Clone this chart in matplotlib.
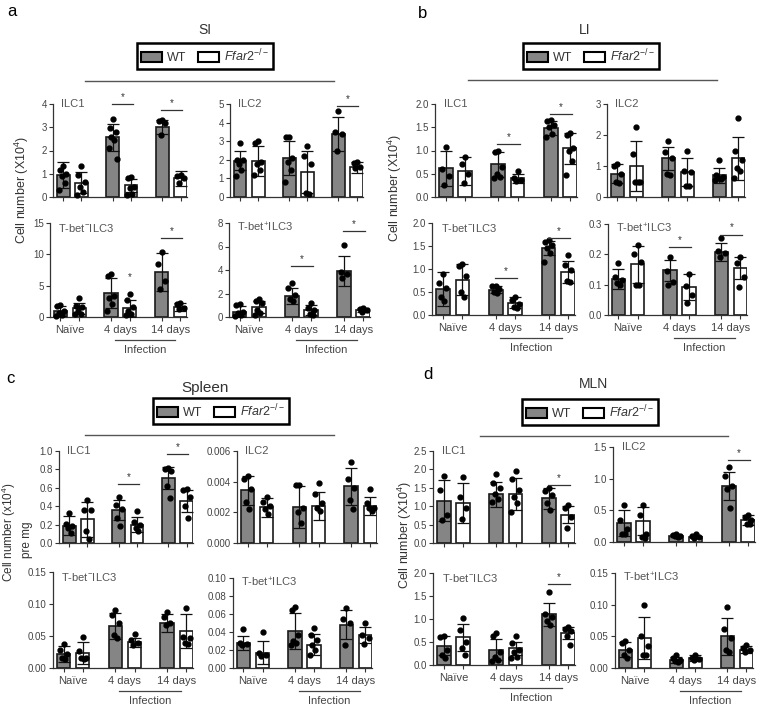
import matplotlib
matplotlib.use('Agg')
import matplotlib.pyplot as plt
import matplotlib.transforms as mtransforms
from matplotlib.patches import Patch
from matplotlib.lines import Line2D
import numpy as np

plt.rcParams['font.family'] = ['Liberation Sans', 'DejaVu Sans']
plt.rcParams['mathtext.fontset'] = 'custom'
plt.rcParams['mathtext.rm'] = 'Liberation Sans'
plt.rcParams['mathtext.it'] = 'Liberation Sans:italic'

W, H = 764, 713

# bar order: Naive WT, Naive KO, 4d WT, 4d KO, 14d WT, 14d KO
x_pos = [0, 1, 2.7, 3.7, 5.4, 6.4]
group_labels = ['Naïve', '4 days', '14 days']
group_centers = [0.5, 3.2, 5.9]

# ---- SI ----
si_ilc1_mean = [0.95, 0.62, 2.56, 0.5, 3.0, 0.81]
si_ilc1_sd = [0.55, 0.45, 0.57, 0.27, 0.31, 0.32]
si_ilc1_pts = [[1.35, 1.15, 1.0, 0.9, 0.6, 0.3], [1.35, 0.95, 0.65, 0.45, 0.2, 0.1],
               [3.35, 2.95, 2.8, 2.6, 2.45, 2.1, 1.65], [0.85, 0.8, 0.45, 0.4, 0.15, 0.1],
               [3.3, 3.25, 3.2, 2.65], [0.95, 0.9, 0.8, 0.6]]
si_ilc1_sig = [(1, 4.0), (2, 3.75)]

si_ilc2_mean = [1.95, 1.95, 2.1, 1.35, 3.4, 1.6]
si_ilc2_sd = [0.5, 0.8, 0.9, 1.15, 0.9, 0.3]
si_ilc2_pts = [[2.9, 2.0, 2.0, 1.8, 1.45, 1.15], [3.0, 2.9, 1.9, 1.75, 1.45, 1.2],
               [3.25, 3.25, 2.1, 1.9, 1.45, 0.8], [2.75, 2.2, 1.8, 0.2, 0.15],
               [4.65, 3.5, 3.4, 2.45], [1.9, 1.85, 1.6, 1.55]]
si_ilc2_sig = [(2, 4.9)]

si_tm_mean = [1.0, 1.4, 3.85, 1.4, 7.2, 1.6]
si_tm_sd = [0.8, 0.9, 2.45, 1.35, 3.0, 0.7]
si_tm_pts = [[1.9, 1.8, 1.0, 0.6, 0.3, 0.2], [3.1, 1.8, 1.6, 1.0, 0.5, 0.4],
             [6.9, 6.5, 3.4, 3.1, 2.0, 1.0], [3.7, 2.7, 1.6, 1.0, 0.4, 0.3],
             [10.4, 8.5, 5.8, 4.5], [2.2, 2.0, 1.5, 1.25]]
si_tm_sig = [(2, 12.6)]
si_tm_star = [(3, 5.6)]

si_tp_mean = [0.45, 0.85, 1.8, 0.6, 3.9, 0.6]
si_tp_sd = [0.45, 0.5, 0.7, 0.4, 1.3, 0.15]
si_tp_pts = [[1.1, 1.0, 0.45, 0.3, 0.15, 0.1], [1.5, 1.35, 1.15, 0.6, 0.3, 0.15],
             [2.9, 2.45, 1.85, 1.5, 1.35], [1.15, 0.75, 0.6, 0.25, 0.15],
             [6.1, 3.8, 3.65, 3.35], [0.8, 0.65, 0.6, 0.45]]
si_tp_sig = [(1, 4.3), (2, 7.3)]

# ---- LI ----
li_ilc1_mean = [0.62, 0.55, 0.7, 0.4, 1.48, 1.05]
li_ilc1_sd = [0.38, 0.3, 0.27, 0.1, 0.15, 0.33]
li_ilc1_pts = [[1.07, 0.6, 0.45, 0.25], [0.85, 0.7, 0.5, 0.3],
               [0.98, 0.97, 0.65, 0.5, 0.42, 0.4], [0.55, 0.4, 0.37, 0.35],
               [1.65, 1.63, 1.55, 1.5, 1.35, 1.3], [1.37, 1.33, 1.05, 1.0, 0.78, 0.47]]
li_ilc1_sig = [(1, 1.13), (2, 1.78)]

li_ilc2_mean = [0.75, 1.0, 1.25, 0.8, 0.7, 1.25]
li_ilc2_sd = [0.3, 0.8, 0.37, 0.45, 0.25, 0.7]
li_ilc2_pts = [[1.05, 1.0, 0.75, 0.5, 0.45], [2.25, 1.4, 0.5, 0.5, 0.5],
               [1.8, 1.45, 1.25, 0.75, 0.7], [1.5, 0.85, 0.8, 0.35, 0.35],
               [1.2, 0.72, 0.65, 0.6, 0.58, 0.55], [2.55, 1.5, 1.2, 0.95, 0.85, 0.6]]
li_ilc2_sig = []

li_tm_mean = [0.57, 0.77, 0.55, 0.27, 1.45, 0.93]
li_tm_sd = [0.37, 0.33, 0.07, 0.12, 0.15, 0.24]
li_tm_pts = [[0.9, 0.7, 0.58, 0.4, 0.3], [1.1, 1.07, 0.85, 0.5, 0.4],
             [0.63, 0.62, 0.56, 0.5, 0.47], [0.4, 0.33, 0.25, 0.18, 0.15],
             [1.62, 1.58, 1.53, 1.45, 1.35, 1.15], [1.3, 1.08, 0.97, 0.75, 0.72]]
li_tm_sig = [(1, 0.8), (2, 1.68)]

li_tp_mean = [0.12, 0.167, 0.147, 0.093, 0.207, 0.155]
li_tp_sd = [0.033, 0.06, 0.035, 0.043, 0.03, 0.036]
li_tp_pts = [[0.172, 0.126, 0.115, 0.104, 0.1], [0.23, 0.2, 0.175, 0.1, 0.1],
             [0.19, 0.145, 0.11, 0.1], [0.135, 0.095, 0.067, 0.04],
             [0.255, 0.21, 0.204, 0.19], [0.19, 0.173, 0.126, 0.092]]
li_tp_sig = [(1, 0.225), (2, 0.265)]

# ---- Spleen ----
sp_ilc1_mean = [0.19, 0.26, 0.36, 0.2, 0.71, 0.46]
sp_ilc1_sd = [0.1, 0.19, 0.11, 0.08, 0.12, 0.12]
sp_ilc1_pts = [[0.33, 0.21, 0.19, 0.16, 0.11], [0.47, 0.36, 0.36, 0.13, 0.04],
               [0.5, 0.41, 0.37, 0.27, 0.18], [0.35, 0.23, 0.2, 0.16, 0.13],
               [0.82, 0.8, 0.78, 0.62, 0.49], [0.59, 0.58, 0.5, 0.4, 0.27]]
sp_ilc1_sig = [(1, 0.64), (2, 0.97)]

sp_ilc2_mean = [0.00345, 0.00232, 0.00235, 0.0024, 0.0037, 0.0024]
sp_ilc2_sd = [0.00095, 0.0006, 0.00135, 0.0009, 0.0012, 0.0006]
sp_ilc2_pts = [[0.0044, 0.00415, 0.0035, 0.0027, 0.0022], [0.003, 0.0027, 0.0024, 0.0022, 0.0019],
               [0.0038, 0.0038, 0.0023, 0.002, 0.0013], [0.0039, 0.0032, 0.0026, 0.0023, 0.0021],
               [0.0053, 0.0042, 0.0036, 0.0028, 0.0022], [0.0035, 0.0026, 0.0023, 0.0023, 0.0021]]
sp_ilc2_sig = []

sp_tm_mean = [0.022, 0.024, 0.066, 0.04, 0.07, 0.058]
sp_tm_sd = [0.012, 0.017, 0.02, 0.007, 0.014, 0.026]
sp_tm_pts = [[0.037, 0.028, 0.022, 0.016, 0.014], [0.049, 0.026, 0.016, 0.015, 0.014],
             [0.09, 0.083, 0.07, 0.052, 0.047], [0.053, 0.044, 0.039, 0.036],
             [0.088, 0.08, 0.07, 0.067], [0.094, 0.049, 0.047, 0.039, 0.038]]
sp_tm_sig = []

sp_tp_mean = [0.028, 0.017, 0.041, 0.026, 0.048, 0.037]
sp_tp_sd = [0.008, 0.013, 0.02, 0.012, 0.016, 0.009]
sp_tp_pts = [[0.043, 0.028, 0.027, 0.026], [0.04, 0.017, 0.015, 0.013],
             [0.068, 0.065, 0.037, 0.03, 0.028, 0.026], [0.044, 0.037, 0.031, 0.026, 0.02, 0.015],
             [0.067, 0.055, 0.05, 0.026], [0.05, 0.037, 0.033, 0.027]]
sp_tp_sig = []

# ---- MLN ----
mln_ilc1_mean = [1.15, 1.08, 1.33, 1.33, 1.21, 0.77]
mln_ilc1_sd = [0.55, 0.54, 0.34, 0.43, 0.28, 0.23]
mln_ilc1_pts = [[1.82, 1.44, 0.77, 0.63], [1.8, 1.25, 0.95, 0.65],
                [1.87, 1.64, 1.49, 1.33, 1.19, 1.12], [1.96, 1.73, 1.44, 1.26, 1.1, 0.83],
                [1.49, 1.42, 1.3, 1.08, 0.9], [1.04, 0.95, 0.72, 0.4]]
mln_ilc1_sig = [(2, 1.58)]

mln_ilc2_mean = [0.3, 0.33, 0.1, 0.08, 0.88, 0.35]
mln_ilc2_sd = [0.2, 0.22, 0.02, 0.02, 0.22, 0.08]
mln_ilc2_pts = [[0.58, 0.34, 0.21, 0.13, 0.12], [0.58, 0.42, 0.13, 0.08, 0.07],
                [0.12, 0.11, 0.1, 0.09, 0.08], [0.12, 0.1, 0.08, 0.07],
                [1.18, 1.05, 0.88, 0.84, 0.53], [0.43, 0.39, 0.34, 0.29, 0.28]]
mln_ilc2_sig = [(2, 1.3)]

mln_tm_mean = [0.42, 0.6, 0.33, 0.36, 1.1, 0.7]
mln_tm_sd = [0.2, 0.3, 0.23, 0.14, 0.25, 0.13]
mln_tm_pts = [[0.62, 0.6, 0.33, 0.22, 0.15], [1.02, 0.76, 0.5, 0.38, 0.22],
              [0.69, 0.64, 0.29, 0.18, 0.1, 0.08], [0.62, 0.47, 0.33, 0.29, 0.18, 0.15],
              [1.58, 1.1, 1.05, 0.95, 0.87], [0.83, 0.78, 0.73, 0.62, 0.44]]
mln_tm_sig = [(2, 1.76)]

mln_tp_mean = [0.029, 0.047, 0.013, 0.016, 0.05, 0.029]
mln_tp_sd = [0.012, 0.033, 0.005, 0.005, 0.029, 0.005]
mln_tp_pts = [[0.042, 0.04, 0.029, 0.021, 0.016], [0.1, 0.05, 0.034, 0.021, 0.02],
              [0.021, 0.016, 0.013, 0.011, 0.01], [0.021, 0.016, 0.014, 0.012],
              [0.096, 0.061, 0.047, 0.029, 0.026], [0.037, 0.032, 0.029, 0.026]]
mln_tp_sig = []

WT_GRAY = '#858585'
TXT = '#444444'
jitter = [0.0, -0.17, 0.17, -0.08, 0.08, -0.22, 0.22]

fig = plt.figure(figsize=(W / 100, H / 100), dpi=100)


def place(l, t, r, b):
    return fig.add_axes([l / W, 1 - b / H, (r - l) / W, (b - t) / H])


def draw(rect, name, mean, sd, pts, yticks, fmt, sig=(), star=(), bottom=False):
    ax = place(*rect)
    h_px = rect[3] - rect[1]
    ax.bar(x_pos, mean, width=0.7, color=[WT_GRAY, 'white'] * 3,
           edgecolor='#1a1a1a', linewidth=1.2, zorder=2)
    ax.errorbar(x_pos, mean, yerr=sd, fmt='none', ecolor='#111111',
                elinewidth=0.9, capsize=4, capthick=0.9, zorder=3)
    for xc, vals in zip(x_pos, pts):
        xs = xc + np.array(jitter[:len(vals)])
        ax.plot(xs, vals, 'o', color='black', ms=3.5, zorder=4, clip_on=False)
    ax.set_xlim(-0.55, 6.75)
    ax.set_ylim(0, yticks[-1])
    ax.set_yticks(yticks)
    ax.set_yticklabels([fmt.format(v) for v in yticks])
    ax.set_xticks(x_pos)
    ax.set_xticklabels([])
    for s in ['top', 'right']:
        ax.spines[s].set_visible(False)
    for s in ['left', 'bottom']:
        ax.spines[s].set_color('#333333')
        ax.spines[s].set_linewidth(0.9)
    ax.tick_params(axis='both', which='major', length=3, width=0.8,
                   color='#333333', labelsize=7, labelcolor=TXT, pad=1.5)
    ty = 0.95 if 'ILC3' in name else 1.0
    ax.text(0.06, ty, name, transform=ax.transAxes, fontsize=8, color='#555555', va='center')

    for g, yv in sig:
        x0, x1 = x_pos[2 * g] - 0.05, x_pos[2 * g + 1] + 0.1
        ax.plot([x0, x1], [yv, yv], color='#333333', lw=0.9, clip_on=False, zorder=5)
        ax.annotate('*', ((x0 + x1) / 2, yv), xytext=(0, 1.5), textcoords='offset points',
                    ha='center', va='bottom', fontsize=7, color='#333333', annotation_clip=False)
    for i, yv in star:
        ax.text(x_pos[i], yv, '*', ha='center', va='bottom', fontsize=7, color='#333333')

    if bottom:
        ax.set_xticks(group_centers, minor=True)
        ax.set_xticklabels(group_labels, minor=True)
        ax.tick_params(axis='x', which='minor', length=0, labelsize=8, labelcolor=TXT, pad=6)
        trans = mtransforms.blended_transform_factory(ax.transData, ax.transAxes)
        ly = -23 / h_px
        ax.plot([2.9, 6.1], [ly, ly], color='#444444', lw=0.9, transform=trans, clip_on=False)
        ax.text(4.5, -33 / h_px, 'Infection', transform=trans, ha='center', va='center',
                fontsize=8, color=TXT)
    return ax


# SI
draw((53, 104, 187, 197), 'ILC1', si_ilc1_mean, si_ilc1_sd, si_ilc1_pts, [0, 1, 2, 3, 4], '{:g}', si_ilc1_sig)
draw((230, 104, 363, 197), 'ILC2', si_ilc2_mean, si_ilc2_sd, si_ilc2_pts, [0, 1, 2, 3, 4, 5], '{:g}', si_ilc2_sig)
draw((50, 223, 187, 317), r'T-bet$^{-}$ILC3', si_tm_mean, si_tm_sd, si_tm_pts, [0, 5, 10, 15], '{:g}',
     si_tm_sig, si_tm_star, bottom=True)
draw((229, 223, 370, 317), r'T-bet$^{+}$ILC3', si_tp_mean, si_tp_sd, si_tp_pts, [0, 2, 4, 6, 8], '{:g}',
     si_tp_sig, bottom=True)

# LI
draw((435, 104, 577, 197), 'ILC1', li_ilc1_mean, li_ilc1_sd, li_ilc1_pts, [0, 0.5, 1.0, 1.5, 2.0], '{:.1f}', li_ilc1_sig)
draw((607, 104, 745, 197), 'ILC2', li_ilc2_mean, li_ilc2_sd, li_ilc2_pts, [0, 1, 2, 3], '{:g}', li_ilc2_sig)
draw((432, 223, 575, 315), r'T-bet$^{-}$ILC3', li_tm_mean, li_tm_sd, li_tm_pts, [0, 0.5, 1.0, 1.5, 2.0], '{:.1f}',
     li_tm_sig, bottom=True)
draw((608, 224, 747, 315), r'T-bet$^{+}$ILC3', li_tp_mean, li_tp_sd, li_tp_pts, [0, 0.1, 0.2, 0.3], '{:.1f}',
     li_tp_sig, bottom=True)

# Spleen
draw((59, 451, 193, 543), 'ILC1', sp_ilc1_mean, sp_ilc1_sd, sp_ilc1_pts, [0, 0.2, 0.4, 0.6, 0.8, 1.0], '{:.1f}', sp_ilc1_sig)
draw((237, 451, 377, 543), 'ILC2', sp_ilc2_mean, sp_ilc2_sd, sp_ilc2_pts, [0, 0.002, 0.004, 0.006], '{:.3f}', sp_ilc2_sig)
draw((53, 572, 193, 668), r'T-bet$^{-}$ILC3', sp_tm_mean, sp_tm_sd, sp_tm_pts, [0, 0.05, 0.10, 0.15], '{:.2f}',
     sp_tm_sig, bottom=True)
draw((233, 578, 372, 668), r'T-bet$^{+}$ILC3', sp_tp_mean, sp_tp_sd, sp_tp_pts, [0, 0.02, 0.04, 0.06, 0.08, 0.10], '{:.2f}',
     sp_tp_sig, bottom=True)

# MLN
draw((433, 451, 575, 543), 'ILC1', mln_ilc1_mean, mln_ilc1_sd, mln_ilc1_pts, [0, 0.5, 1.0, 1.5, 2.0, 2.5], '{:.1f}', mln_ilc1_sig)
draw((613, 447, 755, 542), 'ILC2', mln_ilc2_mean, mln_ilc2_sd, mln_ilc2_pts, [0, 0.5, 1.0, 1.5], '{:.1f}', mln_ilc2_sig)
draw((433, 573, 575, 665), r'T-bet$^{-}$ILC3', mln_tm_mean, mln_tm_sd, mln_tm_pts, [0, 0.5, 1.0, 1.5, 2.0], '{:.1f}',
     mln_tm_sig, bottom=True)
draw((615, 573, 753, 668), r'T-bet$^{+}$ILC3', mln_tp_mean, mln_tp_sd, mln_tp_pts, [0, 0.05, 0.10, 0.15], '{:.2f}',
     mln_tp_sig, bottom=True)

# headers: letter, title, legend box, bracket line
headers = [
    ('a', 7, 12, 'SI', 205, 30, 10, (205, 56), (85, 334, 81)),
    ('b', 418, 14, 'LI', 585, 30, 10, (591, 56), (468, 717, 80)),
    ('c', 6, 378, 'Spleen', 205, 388, 11, (221, 411), (85, 334, 435)),
    ('d', 423, 374, 'MLN', 593, 384, 10, (590, 412), (480, 728, 436)),
]
handles = [Patch(facecolor=WT_GRAY, edgecolor='black', linewidth=1.5),
           Patch(facecolor='white', edgecolor='black', linewidth=1.5)]
labels = ['WT', r'$\mathit{Ffar2}^{-/-}$']
for letter, lx, ly, title, tx, ty, tsize, (cx, cy), (x0, x1, yl) in headers:
    fig.text(lx / W, 1 - ly / H, letter, fontsize=12, va='center', ha='left', color='black')
    fig.text(tx / W, 1 - ty / H, title, fontsize=tsize, va='center', ha='center', color='#333333')
    leg = fig.legend(handles, labels, loc='center', bbox_to_anchor=(cx / W, 1 - cy / H), ncol=2,
                     frameon=True, fancybox=False, edgecolor='black', framealpha=1, fontsize=9,
                     handlelength=1.7, handleheight=0.75, columnspacing=0.9, handletextpad=0.4,
                     borderpad=0.35, borderaxespad=0)
    leg.get_frame().set_linewidth(1.8)
    for t in leg.get_texts():
        t.set_color('#333333')
    fig.add_artist(Line2D([x0 / W, x1 / W], [1 - yl / H, 1 - yl / H], color='#555555', lw=1))

# y labels
ylab = 'Cell number (X10$^{4}$)'
fig.text(22 / W, 1 - 190 / H, ylab, rotation=90, ha='center', va='center', fontsize=9, color='#333333')
fig.text(395 / W, 1 - 188 / H, ylab, rotation=90, ha='center', va='center', fontsize=9, color='#333333')
fig.text(9 / W, 1 - 532 / H, 'Cell number (x10$^{4}$)', rotation=90, ha='center', va='center',
         fontsize=8.5, color='#333333')
fig.text(27 / W, 1 - 540 / H, 'pre mg', rotation=90, ha='center', va='center',
         fontsize=8.5, color='#333333')
fig.text(405 / W, 1 - 535 / H, ylab, rotation=90, ha='center', va='center', fontsize=9, color='#333333')

fig.savefig('out.png', dpi=100)
plt.close(fig)
